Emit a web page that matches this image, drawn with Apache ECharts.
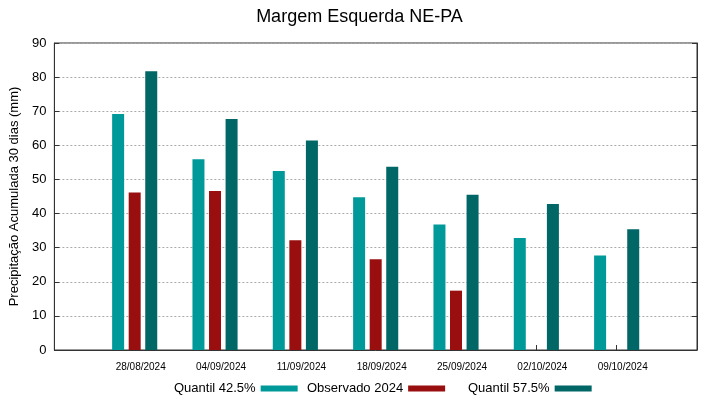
<!DOCTYPE html>
<html>
<head>
<meta charset="utf-8">
<script src="https://cdn.jsdelivr.net/npm/echarts@6/dist/echarts.min.js"></script>
<style>
  html, body { margin: 0; padding: 0; background: #fff; }
  #chart { width: 719px; height: 399px; }
</style>
</head>
<body>
<div id="chart"></div>
<script>
// empty slots at both ends keep the groups one band away from the borders
const categories = ['', '28/08/2024', '04/09/2024', '11/09/2024', '18/09/2024', '25/09/2024', '02/10/2024', '09/10/2024', ''];
const quantil425 = [null, 69.2, 55.9, 52.5, 44.8, 36.8, 32.8, 27.7, null];
const observado2024 = [null, 46.2, 46.6, 32.2, 26.6, 17.4, null, null, null];
const quantil575 = [null, 81.7, 67.7, 61.4, 53.7, 45.5, 42.8, 35.4, null];
const seriesNames = ['Quantil 42.5%', 'Observado 2024', 'Quantil 57.5%'];

const font = 'Liberation Sans, Arial, sans-serif';

const chart = echarts.init(document.getElementById('chart'));

function legendAt(name, left) {
    return {
        data: [name],
        left: left,
        top: 377,
        align: 'right',
        icon: 'rect',
        itemWidth: 37,
        itemHeight: 6,
        textStyle: { fontFamily: font, fontSize: 13, color: '#000' }
    };
}

chart.setOption({
    animation: false,
    title: {
        text: 'Margem Esquerda NE-PA',
        left: 'center',
        top: 3,
        textStyle: { fontFamily: font, fontSize: 18, fontWeight: 'normal', color: '#000' }
    },
    grid: { left: 51, right: 22, top: 43, bottom: 49, show: true, borderColor: '#333', borderWidth: 1 },
    legend: [
        legendAt(seriesNames[0], 169),
        legendAt(seriesNames[1], 302),
        legendAt(seriesNames[2], 463)
    ],
    xAxis: {
        type: 'category',
        data: categories,
        boundaryGap: false,
        axisLine: { lineStyle: { color: '#333' } },
        axisTick: { inside: true, length: 5, lineStyle: { color: '#333' } },
        axisLabel: { interval: 0, fontFamily: font, fontSize: 10, color: '#000', margin: 12, padding: [0, 0, 0, 12] },
        splitLine: { show: false }
    },
    yAxis: [
        {
            type: 'value',
            min: 0,
            max: 90,
            interval: 10,
            name: 'Precipitação Acumulada 30 dias (mm)',
            nameLocation: 'middle',
            nameGap: 25,
            nameTextStyle: { fontFamily: font, fontSize: 13, color: '#000' },
            axisLine: { show: true, lineStyle: { color: '#333' } },
            axisTick: { show: true, inside: true, length: 5, lineStyle: { color: '#333' } },
            axisLabel: { fontFamily: font, fontSize: 13, color: '#000', margin: 8 },
            splitLine: { lineStyle: { color: '#aaa', type: [2, 2], width: 1 } }
        },
        {
            type: 'value',
            position: 'right',
            min: 0,
            max: 90,
            interval: 10,
            axisLine: { show: true, lineStyle: { color: '#333' } },
            axisTick: { show: true, inside: true, length: 5, lineStyle: { color: '#333' } },
            axisLabel: { show: false },
            splitLine: { show: false }
        }
    ],
    series: [
        {
            name: seriesNames[0],
            type: 'bar',
            data: quantil425,
            barWidth: 12,
            barGap: '38%',
            itemStyle: { color: '#009999' }
        },
        {
            name: seriesNames[1],
            type: 'bar',
            data: observado2024,
            barWidth: 12,
            barGap: '38%',
            itemStyle: { color: '#990f0f' }
        },
        {
            name: seriesNames[2],
            type: 'bar',
            data: quantil575,
            barWidth: 12,
            barGap: '38%',
            itemStyle: { color: '#006666' }
        }
    ]
});
</script>
</body>
</html>
